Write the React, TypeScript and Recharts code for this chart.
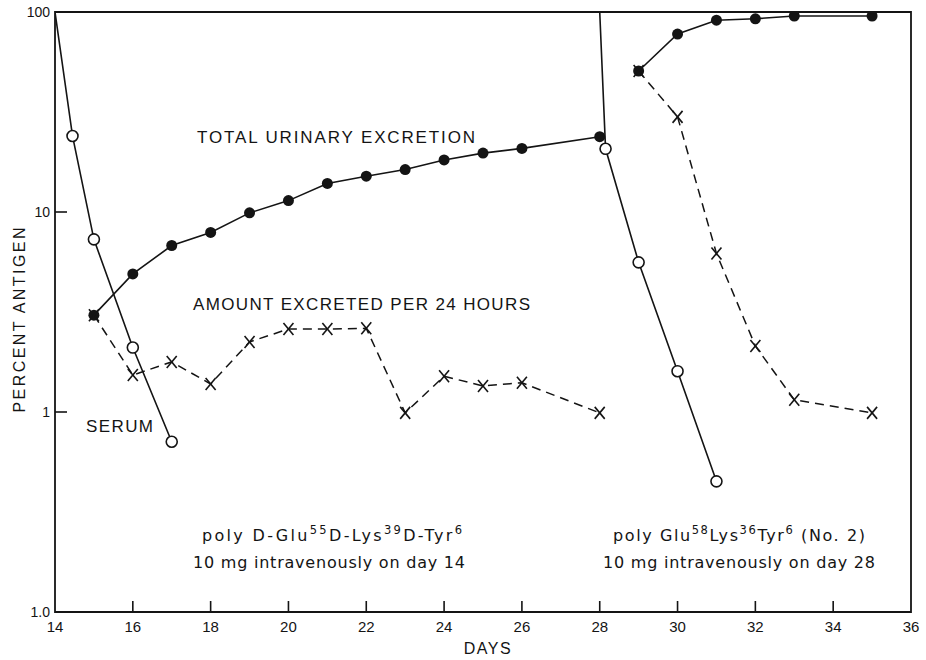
import React from "react";
import {
  ComposedChart,
  Line,
  XAxis,
  YAxis,
  ReferenceArea,
} from "recharts";

// serum level after each injection (first point is the 100% dose at injection time)
const serumDaysA = [14, 14.45, 15, 16, 17];
const serumPctA = [100, 24, 7.3, 2.1, 0.71];
const serumDaysB = [28, 28.15, 29, 30, 31];
const serumPctB = [100, 20.7, 5.6, 1.6, 0.45];

// cumulative urinary excretion
const totalDaysA = [15, 16, 17, 18, 19, 20, 21, 22, 23, 24, 25, 26, 28];
const totalPctA = [3.05, 4.9, 6.8, 7.9, 9.9, 11.4, 13.9, 15.1, 16.3, 18.2, 19.7, 20.8, 23.8];
const totalDaysB = [29, 30, 31, 32, 33, 35];
const totalPctB = [50.7, 77.6, 91, 92.5, 95.5, 95.5];

// amount excreted per 24 hours
const dailyDaysA = [15, 16, 17, 18, 19, 20, 21, 22, 23, 24, 25, 26, 28];
const dailyPctA = [3.05, 1.53, 1.78, 1.38, 2.24, 2.6, 2.6, 2.62, 0.99, 1.51, 1.35, 1.4, 0.99];
const dailyDaysB = [29, 30, 31, 32, 33, 35];
const dailyPctB = [50.7, 29.9, 6.2, 2.14, 1.15, 0.99];

const xTicks = [14, 16, 18, 20, 22, 24, 26, 28, 30, 32, 34, 36];
const yTicks = [0.1, 1, 10, 100];
const yTickLabels = ["1.0", "1", "10", "100"];

const INK = "#141414";
const CAPS = "'Liberation Sans', Arial, sans-serif";
const LOWER = "'DejaVu Sans', sans-serif";

const toRows = (days: number[], pct: number[]) =>
  days.map((day, i) => ({ day, pct: pct[i] }));

const OpenDot = (props: any) => {
  const { cx, cy, index } = props;
  if (index === 0) return <g key={`o${index}`} />;
  return (
    <circle key={`o${index}`} cx={cx} cy={cy} r={5.5} fill="#fff" stroke={INK} strokeWidth={1.6} />
  );
};

const FilledDot = (props: any) => {
  const { cx, cy, index } = props;
  return <circle key={`f${index}`} cx={cx} cy={cy} r={5.5} fill={INK} stroke="none" />;
};

const CrossDot = (props: any) => {
  const { cx, cy, index } = props;
  return (
    <g key={`x${index}`} stroke={INK} strokeWidth={1.6}>
      <line x1={cx - 5} y1={cy - 6} x2={cx + 5} y2={cy + 6} />
      <line x1={cx + 5} y1={cy - 6} x2={cx - 5} y2={cy + 6} />
    </g>
  );
};

const XTick = (props: any) => {
  const { x, y, payload } = props;
  const v = payload.value;
  const edge = v === 14 || v === 36;
  return (
    <g>
      {!edge && <line x1={x} y1={y} x2={x} y2={y - 11} stroke={INK} strokeWidth={1.6} />}
      <text x={x} y={y + 20} textAnchor="middle" fontFamily={CAPS} fontSize={15} fill={INK}>
        {v}
      </text>
    </g>
  );
};

const YTick = (props: any) => {
  const { x, y, payload, index } = props;
  const v = payload.value;
  const inner = v === 1 || v === 10;
  return (
    <g>
      {inner && <line x1={x} y1={y} x2={x + 12} y2={y} stroke={INK} strokeWidth={1.6} />}
      <text x={x - 5} y={y + 5} textAnchor="end" fontFamily={CAPS} fontSize={14} fill={INK}>
        {yTickLabels[yTicks.indexOf(v)] ?? index}
      </text>
    </g>
  );
};

const sup = (s: string) => (
  <tspan dy={-7} fontSize={11.5}>
    {s}
  </tspan>
);
const base = (s: string) => <tspan dy={7}>{s}</tspan>;

export default function App() {
  return (
    <div style={{ position: "absolute", left: 0, top: 0, width: 926, height: 660, background: "#fff" }}>
      <ComposedChart width={926} height={660} margin={{ top: 12, right: 15, bottom: 0, left: 10 }}>
        <XAxis
          type="number"
          dataKey="day"
          domain={[14, 36]}
          ticks={xTicks}
          interval={0}
          allowDataOverflow
          axisLine={false}
          tickLine={false}
          tickSize={0}
          tickMargin={0}
          height={48}
          tick={<XTick />}
        />
        <YAxis
          type="number"
          dataKey="pct"
          scale="log"
          domain={[0.1, 100]}
          ticks={yTicks}
          interval={0}
          allowDataOverflow
          axisLine={false}
          tickLine={false}
          tickSize={0}
          tickMargin={0}
          width={45}
          tick={<YTick />}
        />
        <ReferenceArea
          x1={14}
          x2={36}
          y1={0.1}
          y2={100}
          fill="none"
          fillOpacity={0}
          stroke={INK}
          strokeWidth={1.8}
          ifOverflow="visible"
        />

        <Line data={toRows(serumDaysA, serumPctA)} dataKey="pct" type="linear" stroke={INK} strokeWidth={1.6} dot={OpenDot} activeDot={false} isAnimationActive={false} />
        <Line data={toRows(serumDaysB, serumPctB)} dataKey="pct" type="linear" stroke={INK} strokeWidth={1.6} dot={OpenDot} activeDot={false} isAnimationActive={false} />
        <Line data={toRows(totalDaysA, totalPctA)} dataKey="pct" type="linear" stroke={INK} strokeWidth={1.6} dot={FilledDot} activeDot={false} isAnimationActive={false} />
        <Line data={toRows(totalDaysB, totalPctB)} dataKey="pct" type="linear" stroke={INK} strokeWidth={1.6} dot={FilledDot} activeDot={false} isAnimationActive={false} />
        <Line data={toRows(dailyDaysA, dailyPctA)} dataKey="pct" type="linear" stroke={INK} strokeWidth={1.5} strokeDasharray="9 6" dot={CrossDot} activeDot={false} isAnimationActive={false} />
        <Line data={toRows(dailyDaysB, dailyPctB)} dataKey="pct" type="linear" stroke={INK} strokeWidth={1.5} strokeDasharray="9 6" dot={CrossDot} activeDot={false} isAnimationActive={false} />

        <text x={25} y={320} transform="rotate(-90 25 320)" textAnchor="middle" textLength={185} lengthAdjust="spacing" fontFamily={CAPS} fontSize={16} fill={INK}>
          PERCENT ANTIGEN
        </text>
        <text x={488} y={654} textAnchor="middle" fontFamily={CAPS} fontSize={16} letterSpacing={1.5} fill={INK}>
          DAYS
        </text>

        <text x={197} y={143} textLength={278} lengthAdjust="spacing" fontFamily={CAPS} fontSize={17} fill={INK}>
          TOTAL URINARY EXCRETION
        </text>
        <text x={193} y={310} textLength={337} lengthAdjust="spacing" fontFamily={CAPS} fontSize={17} fill={INK}>
          AMOUNT EXCRETED PER 24 HOURS
        </text>
        <text x={86} y={432} textLength={67} lengthAdjust="spacing" fontFamily={CAPS} fontSize={17} fill={INK}>
          SERUM
        </text>

        <text x={202} y={541} textLength={260} lengthAdjust="spacing" fontFamily={LOWER} fontSize={16} fill={INK}>
          poly D-Glu{sup("55")}{base("D-Lys")}{sup("39")}{base("D-Tyr")}{sup("6")}
        </text>
        <text x={193} y={568} textLength={272} lengthAdjust="spacing" fontFamily={LOWER} fontSize={16} fill={INK}>
          10 mg intravenously on day 14
        </text>
        <text x={613} y={541} textLength={252} lengthAdjust="spacing" fontFamily={LOWER} fontSize={16} fill={INK}>
          poly Glu{sup("58")}{base("Lys")}{sup("36")}{base("Tyr")}{sup("6")}
          <tspan dy={7}> (No. 2)</tspan>
        </text>
        <text x={603} y={568} textLength={272} lengthAdjust="spacing" fontFamily={LOWER} fontSize={16} fill={INK}>
          10 mg intravenously on day 28
        </text>
      </ComposedChart>
    </div>
  );
}
